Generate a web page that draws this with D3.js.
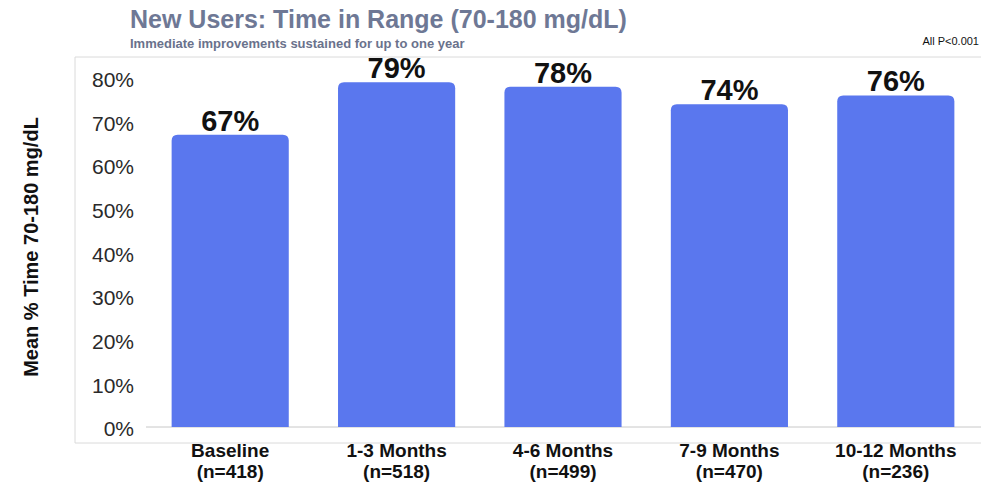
<!DOCTYPE html>
<html>
<head>
<meta charset="utf-8">
<script src="https://cdn.jsdelivr.net/npm/d3@7/dist/d3.min.js"></script>
<style>
  html, body { margin: 0; padding: 0; background: #ffffff; }
  svg { display: block; }
</style>
</head>
<body>
<script>
// Study periods and cohort sizes
const periods = ["Baseline", "1-3 Months", "4-6 Months", "7-9 Months", "10-12 Months"];
const cohortSizes = ["(n=418)", "(n=518)", "(n=499)", "(n=470)", "(n=236)"];
// Mean percent time in range (70-180 mg/dL)
const timeInRange = [67, 79, 78, 74, 76];
const yTicks = [0, 10, 20, 30, 40, 50, 60, 70, 80];

const W = 981, H = 483;
const FONT = "Liberation Sans, Arial, Helvetica, sans-serif";
const svg = d3.select("body").append("svg").attr("width", W).attr("height", H);

const x = d3.scaleBand().domain(periods).range([147, 979]).paddingInner(0.296).paddingOuter(0.148);
const y = d3.scaleLinear().domain([0, 80]).range([427, 78]);

// Title block
svg.append("text").attr("x", 130).attr("y", 28)
  .attr("font-family", FONT).attr("font-weight", "bold")
  .attr("font-size", 25).attr("fill", "#6e7895")
  .text("New Users: Time in Range (70-180 mg/dL)");
svg.append("text").attr("x", 130).attr("y", 48)
  .attr("font-family", FONT).attr("font-weight", "bold")
  .attr("font-size", 13).attr("fill", "#6a728c")
  .text("Immediate improvements sustained for up to one year");
svg.append("text").attr("x", 979).attr("y", 45).attr("text-anchor", "end")
  .attr("font-family", FONT)
  .attr("font-size", 11).attr("fill", "#111")
  .text("All P<0.001");

// Faint frame around plot area
svg.append("path").attr("d", "M981,57H75V443H981")
  .attr("fill", "none").attr("stroke", "#dadada").attr("stroke-width", 1);

// Y axis label
svg.append("text")
  .attr("transform", "translate(38,247) rotate(-90)")
  .attr("text-anchor", "middle")
  .attr("font-family", FONT).attr("font-weight", "bold")
  .attr("font-size", 20).attr("fill", "#111")
  .text("Mean % Time 70-180 mg/dL");

// Y axis tick labels
const yAxis = d3.axisLeft(y).tickValues(yTicks).tickFormat(d => d + "%").tickSize(0).tickPadding(0);
const gy = svg.append("g").attr("transform", "translate(134,2)").call(yAxis);
gy.select(".domain").remove();
gy.selectAll("text").attr("font-family", FONT)
  .attr("font-size", 21).attr("fill", "#2a2a2a");

// Baseline axis line
svg.append("line").attr("x1", 146).attr("x2", 981).attr("y1", y(0)).attr("y2", y(0))
  .attr("stroke", "#c8c8c8").attr("stroke-width", 1);

// Bars with rounded tops
const r = 6;
svg.append("g").selectAll("path").data(periods).join("path")
  .attr("fill", "#5a77ee")
  .attr("d", (p, i) => {
    const x0 = x(p), w = x.bandwidth(), yt = y(timeInRange[i]), yb = y(0);
    return `M${x0},${yb}V${yt + r}Q${x0},${yt} ${x0 + r},${yt}H${x0 + w - r}Q${x0 + w},${yt} ${x0 + w},${yt + r}V${yb}Z`;
  });

// Value labels
svg.append("g").selectAll("text").data(periods).join("text")
  .attr("x", p => x(p) + x.bandwidth() / 2)
  .attr("y", (p, i) => y(timeInRange[i]) - 4)
  .attr("text-anchor", "middle")
  .attr("font-family", FONT)
  .attr("font-weight", "bold").attr("font-size", 29).attr("fill", "#111")
  .text((p, i) => timeInRange[i] + "%");

// Category labels
const cat = svg.append("g").selectAll("text").data(periods).join("text")
  .attr("x", p => x(p) + x.bandwidth() / 2)
  .attr("text-anchor", "middle")
  .attr("font-family", FONT)
  .attr("font-weight", "bold").attr("font-size", 19).attr("fill", "#111");
cat.append("tspan").attr("x", p => x(p) + x.bandwidth() / 2).attr("y", 457).text(p => p);
cat.append("tspan").attr("x", p => x(p) + x.bandwidth() / 2).attr("y", 478).text((p, i) => cohortSizes[i]);
</script>
</body>
</html>
